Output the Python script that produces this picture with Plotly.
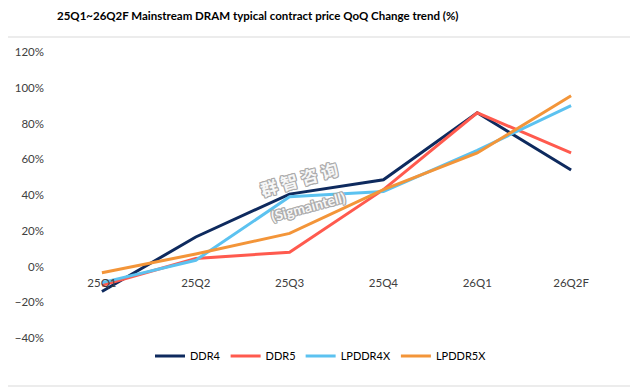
import plotly.graph_objects as go

categories = ["25Q1", "25Q2", "25Q3", "25Q4", "26Q1", "26Q2F"]
ddr4 = [-14.0, 16.5, 40.5, 48.5, 86.0, 54.0]
ddr5 = [-10.5, 4.5, 8.0, 43.0, 86.0, 63.5]
lpddr4x = [-9.0, 3.5, 39.0, 42.0, 65.0, 90.0]
lpddr5x = [-3.5, 7.0, 18.5, 43.0, 63.5, 95.5]

series = [
    ("DDR4", ddr4, "#0E2A5E"),
    ("DDR5", ddr5, "#FF5A4E"),
    ("LPDDR4X", lpddr4x, "#5CC2F0"),
    ("LPDDR5X", lpddr5x, "#F39539"),
]

TITLE = "25Q1~26Q2F Mainstream DRAM typical contract price QoQ Change trend (%)"
FONT = "Lato"
# page body has an 8px margin; lay out in page coordinates minus 8
OFF = 8
W, H = 630, 381
ML, MR, MT, MB = 47, 20, 44, 51
PW, PH = W - ML - MR, H - MT - MB


def px(x):
    return (x - OFF - ML) / PW


def py(y):
    return (H - MB - (y - OFF)) / PH


fig = go.Figure()
for name, vals, col in series:
    fig.add_trace(go.Scatter(x=categories, y=vals, mode="lines", name=name,
                             line=dict(color=col, width=3)))

fig.update_layout(
    width=W, height=H,
    margin=dict(l=ML, r=MR, t=MT, b=MB),
    paper_bgcolor="white", plot_bgcolor="white",
    font=dict(family=FONT, size=11, color="#404040"),
    xaxis=dict(type="category", range=[-0.5, 5.5], showgrid=False, zeroline=False,
               showline=False, ticks="", anchor="free", position=0.25,
               ticklabelstandoff=8,
               automargin=False, tickfont=dict(size=11.5, color="#404040")),
    yaxis=dict(range=[-40, 120], dtick=20, ticksuffix="%", showgrid=False,
               zeroline=False, showline=False, ticks="", ticklabelstandoff=10,
               automargin=False, tickfont=dict(size=11.5, color="#404040")),
    legend=dict(orientation="h", xref="container", yref="container",
                x=(321 - OFF) / W, xanchor="center", y=1 - (356 - OFF) / H, yanchor="middle",
                font=dict(size=11, color="#000000"), itemwidth=30,
                tracegroupgap=0),
    showlegend=True,
)

# title as annotation
fig.add_annotation(text=f"<b>{TITLE}</b>", xref="paper", yref="paper",
                   x=px(55), y=py(15), xanchor="left", yanchor="middle",
                   showarrow=False,
                   font=dict(family=FONT, size=11.5, color="#000000"))

# outer border
fig.add_shape(type="rect", xref="paper", yref="paper",
              x0=px(3), x1=px(633), y0=py(386), y1=py(37),
              line=dict(color="#D9D9D9", width=1), fillcolor="rgba(0,0,0,0)",
              layer="below")

# watermark (outlined light text)
oc = "#ababab"
outline = ", ".join(f"{dx}px {dy}px 0 {oc}" for dx, dy in
                    [(1, 0), (-1, 0), (0, 1), (0, -1), (1, 1), (-1, -1), (1, -1), (-1, 1)])
fig.add_annotation(text="<b>群 智 咨 询</b>", xref="paper", yref="paper",
                   x=px(299), y=py(178),
                   showarrow=False, textangle=-16,
                   font=dict(family="Noto Sans CJK SC", size=17, color="#f7f7f7",
                             shadow=outline))
fig.add_annotation(text="<b>(Sigmaintell)</b>", xref="paper", yref="paper",
                   x=px(308), y=py(206),
                   showarrow=False, textangle=-15,
                   font=dict(family="Lato", size=14, color="#f7f7f7", shadow=outline))

fig.write_html("out.html")
